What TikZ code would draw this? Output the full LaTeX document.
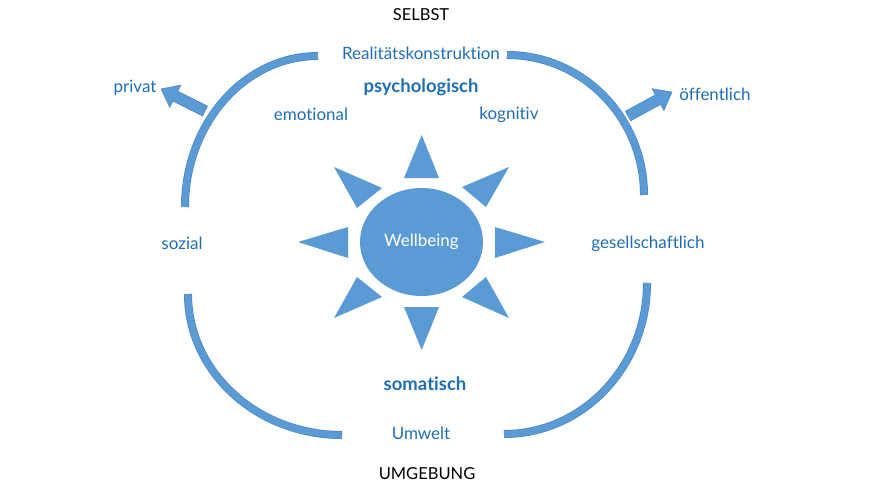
\documentclass[tikz,border=0pt]{standalone}
\usepackage{fontspec}
\setmainfont[RawFeature={-liga}]{Lato}
\usetikzlibrary{shapes.geometric,calc}
\definecolor{shapeblue}{HTML}{5B9BD5}
\definecolor{edgeblue}{HTML}{4A86C2}
\definecolor{textblue}{HTML}{1F6EB4}
\tikzset{
  lbl/.style={text=textblue,font=\fontsize{17}{19}\selectfont,inner sep=0pt},
  boldlbl/.style={lbl,font=\fontsize{18.5}{20}\selectfont\bfseries},
  title/.style={text=black,font=\fontsize{16.5}{18}\selectfont,inner sep=0pt},
  ring/.style={draw=edgeblue,line width=8pt},
  ringin/.style={draw=shapeblue,line width=6.6pt},
  ray/.style={fill=shapeblue,draw=none},
  blockarrow/.style={fill=shapeblue,draw=edgeblue,line width=0.5pt,line join=miter}
}
\begin{document}
\begin{tikzpicture}[x=1pt,y=-1pt]
\useasboundingbox (0,0) rectangle (880,495);
% arcs
\coordinate (tl) at (185,207);
\coordinate (tr) at (507,55);
\coordinate (bl) at (188,294);
\coordinate (br) at (504,434);
\foreach \s in {ring,ringin}{
\draw[\s] (tl) arc[start angle=180,end angle=90,x radius=133pt,y radius=151pt];
\draw[\s] (tr) arc[start angle=90,end angle=0,x radius=137pt,y radius=140pt];
\draw[\s] (bl) arc[start angle=180,end angle=270,x radius=154pt,y radius=141pt];
\draw[\s] (br) arc[start angle=270,end angle=360,x radius=143pt,y radius=151pt];
}
% block arrows
\coordinate (privT) at (205,111);
\coordinate (privP) at (161,89);
\coordinate (oeffT) at (628,116);
\coordinate (oeffP) at (672,92);
\foreach \T/\P in {privT/privP,oeffT/oeffP}{
  \coordinate (H) at ($(\P)!16pt!(\T)$);
  \fill[blockarrow] ($(\T)!5.5pt!90:(\P)$) -- ($(H)!5.5pt!-90:(\T)$) -- ($(H)!12.5pt!-90:(\T)$)
    -- (\P) -- ($(H)!12.5pt!90:(\T)$) -- ($(H)!5.5pt!90:(\T)$) -- ($(\T)!5.5pt!-90:(\P)$) -- cycle;
}
% sun rays
\fill[ray] (421.7,135) -- (439,178) -- (404,178) -- cycle;
\fill[ray] (421.7,350) -- (439,307) -- (404,307) -- cycle;
\fill[ray] (298,242) -- (348,227) -- (348,258) -- cycle;
\fill[ray] (545,242) -- (495,227) -- (495,258) -- cycle;
\fill[ray] (334,167) -- (382,188) -- (357,208) -- cycle;
\fill[ray] (509,167) -- (462,187) -- (486,207) -- cycle;
\fill[ray] (334,318) -- (382,297) -- (357,277) -- cycle;
\fill[ray] (509,318) -- (462,297) -- (486,277) -- cycle;
% core
\node[ellipse,fill=shapeblue,draw=none,minimum width=123pt,minimum height=108pt,inner sep=0pt,
  text=white,font=\fontsize{17}{19}\selectfont] (well) at (421.5,242) {Wellbeing};
% labels
\node[title] (selbst) at (421,15) {SELBST};
\node[title] (umgebung) at (427,474) {UMGEBUNG};
\node[lbl] (real) at (421,53) {Realitätskonstruktion};
\node[boldlbl] (psy) at (421,87) {psychologisch};
\node[lbl] (emo) at (311,114) {emotional};
\node[lbl] (kog) at (509,115) {kognitiv};
\node[lbl] (priv) at (135,88) {privat};
\node[lbl] (oeff) at (715,94) {öffentlich};
\node[lbl] (soz) at (182,243) {sozial};
\node[lbl] (ges) at (648,244) {gesellschaftlich};
\node[boldlbl] (som) at (425,384) {somatisch};
\node[lbl] (umw) at (421,433) {Umwelt};
\end{tikzpicture}
\end{document}
